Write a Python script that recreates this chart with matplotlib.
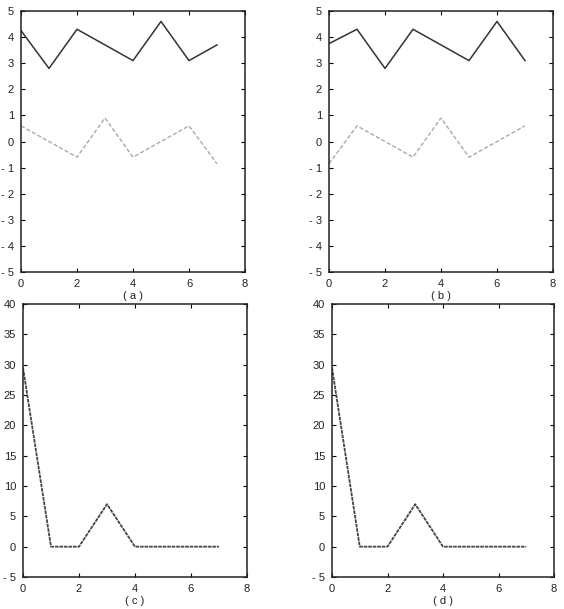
import matplotlib
matplotlib.use("Agg")
import matplotlib.pyplot as plt

plt.rcParams['font.family'] = ['Liberation Sans', 'DejaVu Sans']
plt.rcParams['axes.unicode_minus'] = False

x = [0, 1, 2, 3, 4, 5, 6, 7]

# panel (a)
a_solid = [4.25, 2.8, 4.3, 3.7, 3.1, 4.6, 3.1, 3.7]
a_dashed = [0.6, 0.0, -0.6, 0.9, -0.6, 0.0, 0.6, -0.85]
# panel (b)
b_solid = [3.75, 4.3, 2.8, 4.3, 3.7, 3.1, 4.6, 3.1]
b_dashed = [-0.85, 0.6, 0.0, -0.6, 0.9, -0.6, 0.0, 0.6]
# panels (c) and (d)
c_vals = [29.5, 0, 0, 7, 0, 0, 0, 0]
d_vals = [29.5, 0, 0, 7, 0, 0, 0, 0]

captions = ['( a )', '( b )', '( c )', '( d )']

W, H = 564, 609
fig = plt.figure(figsize=(W / 100, H / 100), dpi=100)


def box(left, top, right, bottom):
    return [left / W, 1 - bottom / H, (right - left) / W, (bottom - top) / H]


def style(ax, ylim, yticks):
    ax.set_xlim(0, 8)
    ax.set_ylim(*ylim)
    ax.set_xticks([0, 2, 4, 6, 8])
    ax.set_yticks(yticks)
    ax.set_yticklabels([str(t).replace('-', '- ') for t in yticks])
    ax.tick_params(direction='in', length=3, width=0.8, top=True, right=True,
                   labelsize=8, pad=5, labelcolor='#222222')
    for s in ax.spines.values():
        s.set_linewidth(1.1)
        s.set_color('#222222')


axes = [
    fig.add_axes(box(21, 11, 245, 272)),
    fig.add_axes(box(329, 11, 553, 272)),
    fig.add_axes(box(23, 304, 247, 577)),
    fig.add_axes(box(332, 304, 554, 577)),
]

ax = axes[0]
ax.plot(x, a_solid, color='#333333', lw=1.1)
ax.plot(x, a_dashed, color='#aaaaaa', lw=1.0, ls=(0, (3, 1.5)))
style(ax, (-5, 5), list(range(-5, 6)))

ax = axes[1]
ax.plot(x, b_solid, color='#333333', lw=1.1)
ax.plot(x, b_dashed, color='#aaaaaa', lw=1.0, ls=(0, (3, 1.5)))
style(ax, (-5, 5), list(range(-5, 6)))

ax = axes[2]
ax.plot(x, c_vals, color='#444444', lw=1.3, ls=(0, (2, 0.5)))
style(ax, (-5, 40), list(range(-5, 41, 5)))

ax = axes[3]
ax.plot(x, d_vals, color='#444444', lw=1.3, ls=(0, (2, 0.5)))
style(ax, (-5, 40), list(range(-5, 41, 5)))

cap_y = [296, 296, 601, 601]
for ax, cap, cy in zip(axes, captions, cap_y):
    pos = ax.get_position()
    fig.text(pos.x0 + pos.width / 2, 1 - cy / H, cap, ha='center', va='center',
             fontsize=8, color='#222222')

fig.savefig("out.png", dpi=100)
